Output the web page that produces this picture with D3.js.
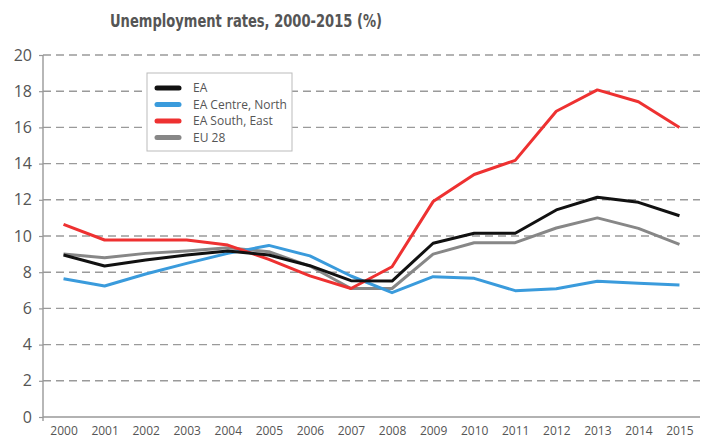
<!DOCTYPE html>
<html>
<head>
<meta charset="utf-8">
<script src="https://cdn.jsdelivr.net/npm/d3@7"></script>
<style>
  body { margin: 0; background: #fff; }
  svg { display: block; font-family: "Open Sans", "DejaVu Sans", sans-serif; }
</style>
</head>
<body>
<div id="chart"></div>
<script>
// data
const years = ["2000","2001","2002","2003","2004","2005","2006","2007","2008","2009","2010","2011","2012","2013","2014","2015"];
const ea        = [8.95, 8.34, 8.67, 8.95, 9.17, 8.95, 8.36, 7.53, 7.51, 9.6, 10.15, 10.15, 11.44, 12.14, 11.86, 11.12];
const eaNorth   = [7.64, 7.24, 7.9, 8.49, 9.04, 9.48, 8.9, 7.79, 6.87, 7.75, 7.66, 6.98, 7.09, 7.5, 7.39, 7.29];
const eaSouth   = [10.64, 9.78, 9.78, 9.78, 9.5, 8.71, 7.8, 7.1, 8.3, 11.9, 13.4, 14.18, 16.89, 18.07, 17.42, 16.0];
const eu28      = [9.0, 8.8, 9.04, 9.17, 9.35, 9.13, 8.34, 7.1, 7.1, 9.0, 9.63, 9.63, 10.44, 11.0, 10.42, 9.54];
const seriesNames = ["EA", "EA Centre, North", "EA South, East", "EU 28"];
const yTicks = [0, 2, 4, 6, 8, 10, 12, 14, 16, 18, 20];
const title = "Unemployment rates, 2000-2015 (%)";

const colors = ["#111111", "#3a9bdc", "#ee3131", "#878787"];
const seriesData = [ea, eaNorth, eaSouth, eu28];

const width = 705, height = 441;
const margin = {top: 55, right: 5, bottom: 24, left: 43};

const svg = d3.select("#chart").append("svg")
  .attr("width", width)
  .attr("height", height);

const x = d3.scalePoint()
  .domain(years)
  .range([margin.left, width - margin.right])
  .padding(0.5);

const y = d3.scaleLinear()
  .domain([0, 20])
  .range([height - margin.bottom, margin.top]);

// title (condensed look: squeeze to the reference width)
svg.append("text")
  .attr("x", 110)
  .attr("y", 27)
  .attr("textLength", 272)
  .attr("lengthAdjust", "spacingAndGlyphs")
  .attr("font-family", "'DejaVu Sans Condensed', 'DejaVu Sans', sans-serif")
  .attr("font-weight", "bold")
  .attr("font-size", 17)
  .attr("fill", "#555")
  .text(title);

// gridlines
svg.append("g")
  .selectAll("line")
  .data(yTicks.filter(d => d > 0))
  .join("line")
    .attr("x1", margin.left)
    .attr("x2", width - margin.right)
    .attr("y1", d => y(d))
    .attr("y2", d => y(d))
    .attr("stroke", "#9a9a9a")
    .attr("stroke-width", 1.4)
    .attr("stroke-dasharray", "8,5");

// y axis
const yAxis = svg.append("g")
  .attr("transform", "translate(" + margin.left + ",0)")
  .call(d3.axisLeft(y).tickValues(yTicks).tickSize(4).tickPadding(7));
yAxis.select(".domain").attr("stroke", "#999").attr("stroke-width", 1.4)
  .attr("d", "M0," + y(20) + "V" + (y(0) + 4));
yAxis.selectAll(".tick line").attr("stroke", "#999").attr("stroke-width", 1.2);
yAxis.selectAll(".tick text")
  .attr("font-size", 16)
  .attr("font-family", "'Open Sans', sans-serif")
  .attr("fill", "#555");

// x axis
const xAxis = svg.append("g")
  .attr("transform", "translate(0," + y(0) + ")")
  .call(d3.axisBottom(x).tickSize(0).tickPadding(9));
xAxis.select(".domain").attr("stroke", "#999").attr("stroke-width", 1.4)
  .attr("d", "M" + margin.left + ",0H" + (width - margin.right));
xAxis.selectAll(".tick text")
  .attr("font-size", 12)
  .attr("font-family", "'Open Sans', sans-serif")
  .attr("fill", "#555");

// lines
const line = d3.line()
  .x((d, i) => x(years[i]))
  .y(d => y(d));

// draw order: gray, blue, red, black on top
[3, 1, 2, 0].forEach(k => {
  svg.append("path")
    .datum(seriesData[k])
    .attr("fill", "none")
    .attr("stroke", colors[k])
    .attr("stroke-width", 3)
    .attr("stroke-linejoin", "round")
    .attr("d", line);
});

// legend
const legend = svg.append("g").attr("transform", "translate(147,73)");
legend.append("rect")
  .attr("width", 145)
  .attr("height", 78)
  .attr("fill", "#fff")
  .attr("stroke", "#bbb")
  .attr("stroke-width", 1);

seriesNames.forEach((name, i) => {
  const row = legend.append("g").attr("transform", "translate(0," + (15 + i * 16.5) + ")");
  row.append("line")
    .attr("x1", 10).attr("x2", 32)
    .attr("stroke", colors[i])
    .attr("stroke-width", 5)
    .attr("stroke-linecap", "round");
  row.append("text")
    .attr("x", 46)
    .attr("y", 4)
    .attr("font-size", 12)
    .attr("fill", "#555")
    .text(name);
});
</script>
</body>
</html>
